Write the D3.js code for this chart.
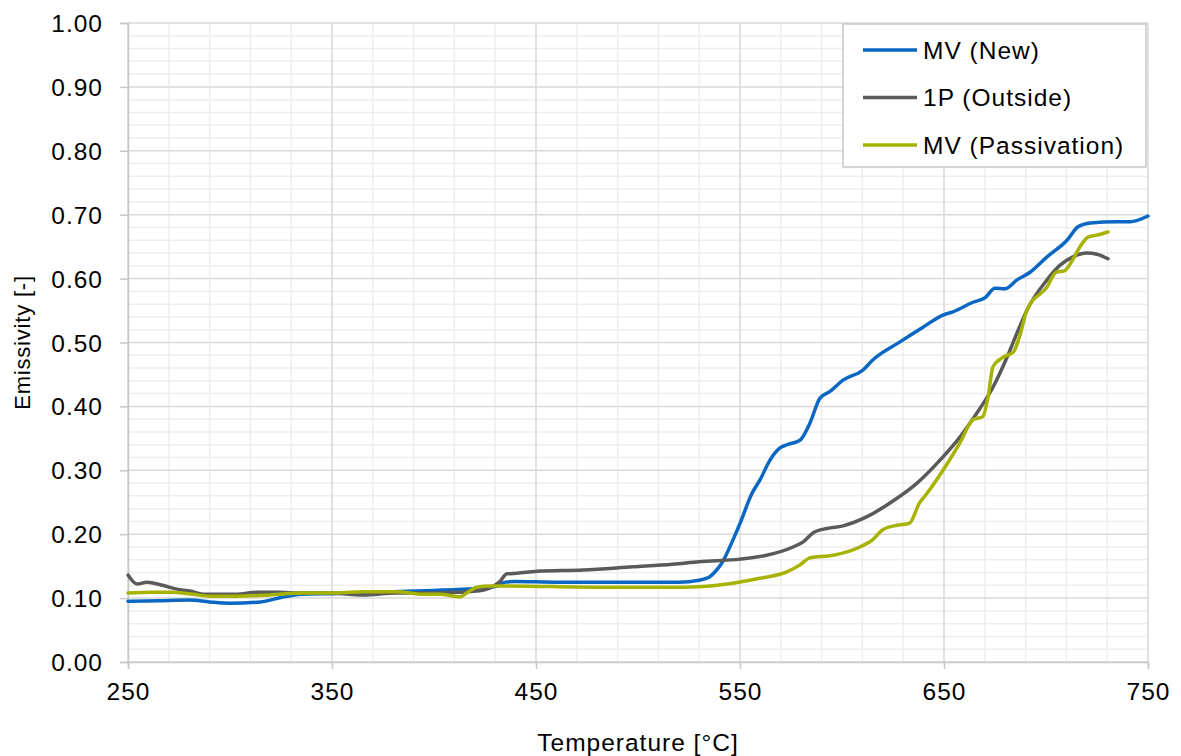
<!DOCTYPE html>
<html>
<head>
<meta charset="utf-8">
<script src="https://cdn.jsdelivr.net/npm/d3@7"></script>
<style>
  html, body { margin: 0; padding: 0; background: #fff; }
  svg { display: block; font-family: "Liberation Sans", Arial, Helvetica, sans-serif; }
</style>
</head>
<body>
<svg id="chart" width="1181" height="756"></svg>
<script>
// Emissivity vs temperature for three samples
const seriesNames = ["MV (New)", "1P (Outside)", "MV (Passivation)"];
const seriesColors = ["#0a67c3", "#5a5a5a", "#a6b300"];

const mvNewT = [250, 265, 280, 290, 300, 315, 325, 335, 350, 380, 400, 420, 430, 435, 440, 460, 500, 520, 530, 535, 538, 541.7, 545, 550, 555.9, 559.8, 564.7, 569.6, 573, 579.4, 584.3, 589.2, 594, 600.5, 610.3, 615.2, 628.4, 639.7, 649.5, 654.4, 664.2, 670.1, 675, 679.9, 685.8, 692.2, 700.5, 710.3, 715.7, 721.6, 734.8, 741.2, 750];
const mvNewE = [0.095, 0.096, 0.097, 0.094, 0.092, 0.094, 0.101, 0.106, 0.107, 0.110, 0.112, 0.115, 0.118, 0.125, 0.126, 0.125, 0.125, 0.125, 0.128, 0.133, 0.142, 0.158, 0.180, 0.217, 0.264, 0.285, 0.316, 0.335, 0.340, 0.347, 0.374, 0.413, 0.423, 0.441, 0.457, 0.473, 0.501, 0.524, 0.543, 0.548, 0.563, 0.570, 0.585, 0.584, 0.598, 0.610, 0.634, 0.660, 0.681, 0.687, 0.689, 0.689, 0.698];

const outsideT = [250, 254.4, 259.3, 267, 274, 280.4, 286.8, 295, 303, 313, 324.5, 334, 349, 365, 381.9, 398, 411, 421, 427.5, 432, 435.8, 440.7, 450.5, 473, 497.5, 517, 530, 550, 563, 576, 581, 585.8, 592.6, 600.5, 612, 625, 636.8, 649.5, 657.8, 666.2, 674, 680.9, 685.8, 690.7, 700.5, 706.9, 713.2, 720, 725, 730.4];
const outsideE = [0.136, 0.122, 0.125, 0.120, 0.114, 0.111, 0.106, 0.106, 0.106, 0.109, 0.109, 0.108, 0.108, 0.105, 0.108, 0.108, 0.109, 0.111, 0.116, 0.125, 0.138, 0.139, 0.142, 0.144, 0.149, 0.153, 0.157, 0.161, 0.167, 0.180, 0.188, 0.202, 0.209, 0.213, 0.227, 0.252, 0.280, 0.321, 0.352, 0.390, 0.430, 0.477, 0.515, 0.551, 0.598, 0.621, 0.634, 0.640, 0.638, 0.631];

const passT = [250, 262, 270.6, 282, 290, 303, 319.6, 336, 352, 365, 382, 394.6, 403, 412.7, 416, 421, 427.5, 434, 481, 522, 543.6, 559.8, 573, 579.4, 584.3, 595.6, 608.8, 615, 620, 627, 633, 638, 641.7, 649.5, 657.8, 664.2, 669, 671.6, 674, 679, 684, 687, 690.7, 700.5, 705, 709, 713, 716.7, 720.6, 725, 730.4];
const passE = [0.108, 0.109, 0.109, 0.106, 0.103, 0.103, 0.105, 0.108, 0.108, 0.110, 0.110, 0.106, 0.106, 0.102, 0.108, 0.117, 0.119, 0.119, 0.117, 0.117, 0.122, 0.131, 0.141, 0.152, 0.163, 0.167, 0.180, 0.191, 0.207, 0.214, 0.217, 0.249, 0.264, 0.300, 0.343, 0.379, 0.384, 0.415, 0.462, 0.477, 0.485, 0.509, 0.551, 0.587, 0.610, 0.612, 0.629, 0.650, 0.665, 0.668, 0.673];

const xTicks = [250, 350, 450, 550, 650, 750];
const yTicks = [0, 0.1, 0.2, 0.3, 0.4, 0.5, 0.6, 0.7, 0.8, 0.9, 1.0];
const xTitle = "Temperature [°C]";
const yTitle = "Emissivity [-]";

const series = [
  { name: seriesNames[0], color: seriesColors[0], t: mvNewT, e: mvNewE },
  { name: seriesNames[1], color: seriesColors[1], t: outsideT, e: outsideE },
  { name: seriesNames[2], color: seriesColors[2], t: passT, e: passE }
];

const svg = d3.select("#chart");
const margin = { left: 128, right: 33, top: 23, bottom: 94 };
const W = 1181, H = 756;
const x = d3.scaleLinear().domain([250, 750]).range([margin.left, W - margin.right]);
const y = d3.scaleLinear().domain([0, 1]).range([H - margin.bottom, margin.top]);

const labelFont = { size: "24.5px", spacing: "1px" };

// minor grid
const g = svg.append("g");
const minorX = d3.range(250, 751, 20).filter(v => (v - 250) % 100 !== 0);
const minorY = d3.range(0, 101, 2).map(v => v / 100).filter(v => Math.round(v * 100) % 10 !== 0);
g.selectAll("line.mx").data(minorX).join("line")
  .attr("x1", d => x(d)).attr("x2", d => x(d))
  .attr("y1", y(0)).attr("y2", y(1))
  .attr("stroke", "#eeeeee").attr("stroke-width", 1.5);
g.selectAll("line.my").data(minorY).join("line")
  .attr("x1", x(250)).attr("x2", x(750))
  .attr("y1", d => y(d)).attr("y2", d => y(d))
  .attr("stroke", "#eeeeee").attr("stroke-width", 1.5);

// major grid
g.selectAll("line.gx").data(xTicks).join("line")
  .attr("x1", d => x(d)).attr("x2", d => x(d))
  .attr("y1", y(0)).attr("y2", y(1))
  .attr("stroke", "#d9d9d9").attr("stroke-width", 1.5);
g.selectAll("line.gy").data(yTicks).join("line")
  .attr("x1", x(250)).attr("x2", x(750))
  .attr("y1", d => y(d)).attr("y2", d => y(d))
  .attr("stroke", "#d9d9d9").attr("stroke-width", 1.5);

// axes
const xAxis = d3.axisBottom(x).tickValues(xTicks).tickSize(7).tickPadding(14).tickFormat(d3.format("d"));
const yAxis = d3.axisLeft(y).tickValues(yTicks).tickSize(8).tickPadding(17).tickFormat(d3.format(".2f"));
const gx = svg.append("g").attr("transform", `translate(0,${y(0)})`).call(xAxis);
const gy = svg.append("g").attr("transform", `translate(${x(250)},0)`).call(yAxis);
[gx, gy].forEach(a => {
  a.select(".domain").attr("stroke", "#c8c8c8").attr("stroke-width", 1.5);
  a.selectAll(".tick line").attr("stroke", "#c8c8c8").attr("stroke-width", 1.5);
  a.selectAll(".tick text").attr("fill", "#000")
    .style("font-size", labelFont.size).style("letter-spacing", labelFont.spacing)
    .style("font-family", '"Liberation Sans", Arial, sans-serif');
});
gy.selectAll(".tick text").attr("dy", "0.35em");

// axis titles
svg.append("text").attr("x", x(500)).attr("y", 751).attr("text-anchor", "middle")
  .style("font-size", labelFont.size).style("letter-spacing", labelFont.spacing)
  .attr("fill", "#000").text(xTitle);
svg.append("text").attr("transform", `translate(30,${y(0.5)}) rotate(-90)`)
  .attr("text-anchor", "middle").style("font-size", "22px").style("letter-spacing", "0.8px")
  .attr("fill", "#000").text(yTitle);

// curves
const line = d3.line().x(d => x(d[0])).y(d => y(d[1])).curve(d3.curveMonotoneX);
series.forEach(s => {
  svg.append("path")
    .datum(s.t.map((t, i) => [t, s.e[i]]))
    .attr("fill", "none").attr("stroke", s.color).attr("stroke-width", 3.5)
    .attr("stroke-linejoin", "round").attr("stroke-linecap", "round")
    .attr("d", line);
});

// legend
const lg = svg.append("g");
lg.append("rect").attr("x", 843).attr("y", 24).attr("width", 303).attr("height", 143)
  .attr("fill", "#fff").attr("stroke", "#c8c8c8").attr("stroke-width", 1.5);
series.forEach((s, i) => {
  const cy = 50 + i * 47.5;
  lg.append("line").attr("x1", 863).attr("x2", 917).attr("y1", cy).attr("y2", cy)
    .attr("stroke", s.color).attr("stroke-width", 3.5);
  lg.append("text").attr("x", 923).attr("y", cy).attr("dy", "0.35em")
    .style("font-size", labelFont.size).style("letter-spacing", labelFont.spacing)
    .attr("fill", "#000").text(s.name);
});
</script>
</body>
</html>
